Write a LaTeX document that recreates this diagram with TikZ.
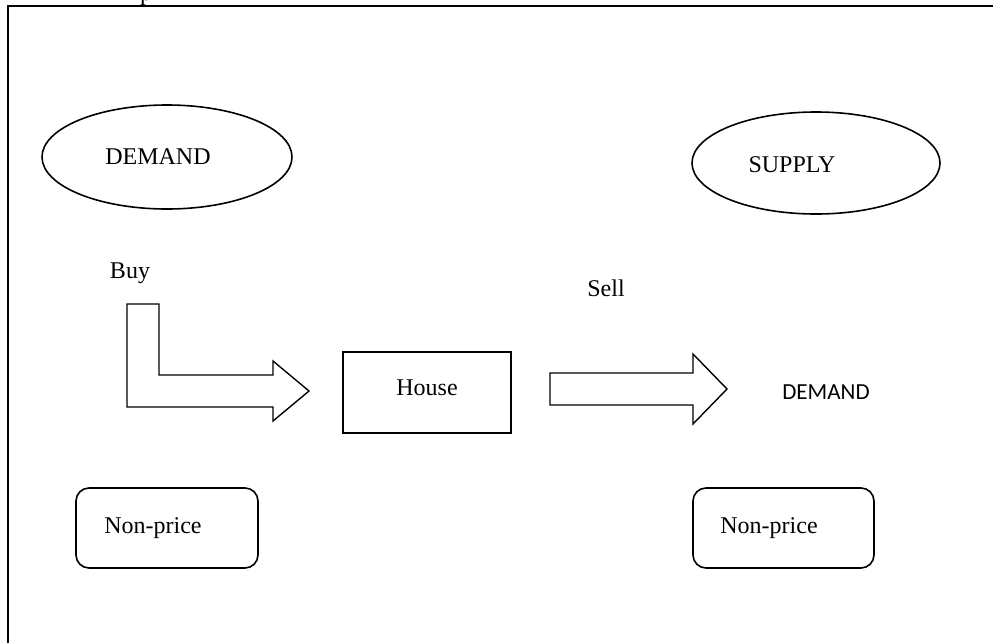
\documentclass[tikz,border=0pt]{standalone}
\usepackage{fontspec}
\setmainfont{Liberation Serif}
\newfontfamily\calfont{Carlito}
\usetikzlibrary{shapes.geometric}
\begin{document}
\begin{tikzpicture}[x=1pt,y=-1pt,
  every node/.style={font=\fontsize{24}{28}\selectfont},
  oval/.style={draw,line width=1.6pt,ellipse,inner sep=0pt},
  plainbox/.style={draw,line width=1.6pt,inner sep=0pt},
  softbox/.style={draw,line width=1.6pt,rounded corners=13pt,inner sep=0pt},
  blockarrow/.style={draw,line width=1.4pt,line join=miter},
  frameline/.style={line width=1.6pt}]
\useasboundingbox (0,0) rectangle (993,643);
% frame
\draw[frameline] (8,643) -- (8,6) -- (994,6);
\node[anchor=base] (cut) at (146,0) {p};
% ellipses
\node[oval,minimum width=250pt,minimum height=104pt] (dem) at (167,157) {};
\node (demtxt) at (158,157) {DEMAND};
\node[oval,minimum width=248pt,minimum height=102pt] (sup) at (816,163) {};
\node (suptxt) at (792,165) {SUPPLY};
% labels
\node (buy) at (130,273) {Buy};
\node (sell) at (606,288) {Sell};
% house
\node[plainbox,minimum width=168pt,minimum height=81pt] (house) at (427,392.5) {};
\node (housetxt) at (427,388) {House};
% L arrow
\draw[blockarrow] (127,304) -- (159,304) -- (159,375) -- (273,375) -- (273,361)
  -- (309,391) -- (273,421) -- (273,407) -- (127,407) -- cycle;
% right arrow
\draw[blockarrow] (550,373) -- (693,373) -- (693,354) -- (727,389) -- (693,424)
  -- (693,405) -- (550,405) -- cycle;
\node[font=\calfont\fontsize{23}{28}\selectfont] (dem2) at (826,392) {DEMAND};
% non-price boxes
\node[softbox,minimum width=182pt,minimum height=80pt] (np1) at (167,528) {};
\node (np1txt) at (153,528) {Non-price};
\node[softbox,minimum width=181pt,minimum height=80pt] (np2) at (783.5,528) {};
\node (np2txt) at (769,528) {Non-price};
\end{tikzpicture}
\end{document}
